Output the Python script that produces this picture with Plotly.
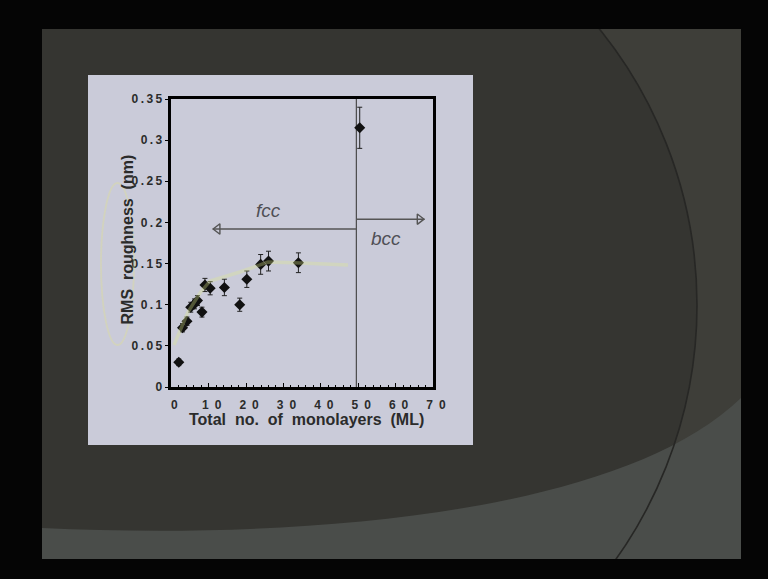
import plotly.graph_objects as go
import numpy as np

W, H = 768, 579

# RMS roughness versus total film thickness
monolayers = [2.0, 3.0, 4.2, 5.2, 6.2, 7.0, 8.2, 9.0, 10.4, 14.2, 18.3, 20.2, 23.9, 26.0, 34.0, 50.4]
rms_nm = [0.030, 0.072, 0.080, 0.097, 0.101, 0.105, 0.091, 0.124, 0.120, 0.121, 0.100, 0.131, 0.149, 0.153, 0.151, 0.315]
rms_err = [0.004, 0.005, 0.005, 0.006, 0.006, 0.006, 0.006, 0.008, 0.008, 0.010, 0.008, 0.010, 0.012, 0.012, 0.012, 0.025]

x_ticks = [0, 10, 20, 30, 40, 50, 60, 70]
x_tick_labels = ["0", "10", "20", "30", "40", "50", "60", "70"]
y_ticks = [0, 0.05, 0.10, 0.15, 0.20, 0.25, 0.30, 0.35]
y_tick_labels = ["0", "0.05", "0.1", "0.15", "0.2", "0.25", "0.3", "0.35"]

# fcc -> bcc transition and the phase arrows
transition_ml = 49.5
fcc_arrow = dict(x=[49.5, 11.1], y=0.192)
bcc_arrow = dict(x=[49.5, 67.7], y=0.204)


def px(x):
    return x / W


def py(y):
    return 1 - y / H


def path(points, close=False):
    s = "M " + " L ".join(f"{px(a):.5f},{py(b):.5f}" for a, b in points)
    return s + (" Z" if close else "")


def spaced(label, sep):
    return sep.join(label)


fig = go.Figure()

# vertical phase boundary
fig.add_trace(go.Scatter(
    x=[transition_ml, transition_ml], y=[0, 0.35], mode="lines",
    line=dict(color="#4a4a4a", width=1.2), hoverinfo="skip", showlegend=False))

# phase arrows with open heads
for arr, sym in ((fcc_arrow, "triangle-left-open"), (bcc_arrow, "triangle-right-open")):
    fig.add_trace(go.Scatter(
        x=arr["x"], y=[arr["y"], arr["y"]], mode="lines",
        line=dict(color="#555555", width=1.5), hoverinfo="skip", showlegend=False))
    step = 1.3 if sym.startswith("triangle-left") else -1.3
    fig.add_trace(go.Scatter(
        x=[arr["x"][1] + step], y=[arr["y"]], mode="markers",
        marker=dict(symbol=sym, size=9, color="#555555", line=dict(width=1.4, color="#555555")),
        hoverinfo="skip", showlegend=False))

# data with error bars
fig.add_trace(go.Scatter(
    x=monolayers, y=rms_nm, mode="markers",
    marker=dict(symbol="diamond", size=8.5, color="#111111"),
    error_y=dict(type="data", array=rms_err, visible=True, color="#222222", thickness=1, width=2.5),
    showlegend=False))

# slide background
below = []
below.append(dict(type="rect", xref="paper", yref="paper", x0=px(42), x1=px(741), y0=py(559), y1=py(29),
                  fillcolor="#3e3e39", line=dict(width=0), layer="below"))
cx, cy, r = 258, 305, 439
below.append(dict(type="circle", xref="paper", yref="paper", x0=px(cx - r), x1=px(cx + r),
                  y0=py(cy + r), y1=py(cy - r), fillcolor="#353531", line=dict(width=0), layer="below"))
band = (f"M {px(42):.5f},{py(528):.5f} C {px(300):.5f},{py(540):.5f} {px(620):.5f},{py(515):.5f} "
        f"{px(741):.5f},{py(398):.5f} L {px(741):.5f},{py(559):.5f} L {px(42):.5f},{py(559):.5f} Z")
below.append(dict(type="path", xref="paper", yref="paper", path=band,
                  fillcolor="#4a4d4a", line=dict(width=0), layer="below"))
below.append(dict(type="circle", xref="paper", yref="paper", x0=px(cx - r), x1=px(cx + r),
                  y0=py(cy + r), y1=py(cy - r), fillcolor="rgba(0,0,0,0)",
                  line=dict(width=1.6, color="#272725"), layer="below"))
# black frame around the slide
for x0, x1, y0, y1 in ((-20, 42, -20, H + 20), (741, W + 20, -20, H + 20),
                       (-20, W + 20, -20, 29), (-20, W + 20, 559, H + 20)):
    below.append(dict(type="rect", xref="paper", yref="paper", x0=px(x0), x1=px(x1), y0=py(y1), y1=py(y0),
                      fillcolor="#050505", line=dict(width=0), layer="below"))
# chart panel
below.append(dict(type="rect", xref="paper", yref="paper", x0=px(88), x1=px(473), y0=py(445), y1=py(75),
                  fillcolor="#cacbd9", line=dict(width=0), layer="below"))

# highlighter marks
above = []
hl = [(174, 345), (188, 312), (200, 293), (210, 281), (240, 272), (268, 262), (301, 263), (348, 265)]
above.append(dict(type="path", xref="paper", yref="paper", path=path(hl),
                  line=dict(color="rgba(225,235,140,0.32)", width=3.5), layer="above"))
above.append(dict(type="circle", xref="paper", yref="paper", x0=px(101), x1=px(134), y0=py(345), y1=py(183),
                  line=dict(color="rgba(225,225,140,0.35)", width=1.8), fillcolor="rgba(0,0,0,0)", layer="above"))

fig.update_layout(shapes=below + above)

tick_font = dict(family="Liberation Sans", size=12, color="#2b2b2b", weight="bold")

fig.update_xaxes(
    domain=[px(171.3), px(433)], range=[0, 70],
    tickvals=x_ticks, ticktext=[spaced(t, "\u2002") for t in x_tick_labels],
    ticks="inside", ticklen=4, tickcolor="black", tickwidth=1,
    minor=dict(dtick=2, ticks="inside", ticklen=2, tickcolor="black"),
    showline=True, linewidth=2.5, linecolor="black", mirror=True,
    showgrid=False, zeroline=False, tickfont=tick_font, ticklabelstandoff=5, ticklabelshift=3)
fig.update_yaxes(
    domain=[py(387), py(99)], range=[0, 0.35],
    tickvals=y_ticks, ticktext=[spaced(t, "\u2009") for t in y_tick_labels],
    ticks="outside", ticklen=4, tickcolor="black", tickwidth=1,
    showline=True, linewidth=2.5, linecolor="black", mirror=True,
    showgrid=False, zeroline=False, tickfont=tick_font, ticklabelstandoff=0)

title_font = dict(family="Liberation Sans", size=16, color="#2b2b2b", weight="bold")
nb = "\u00a0"
fig.add_annotation(xref="paper", yref="paper", x=px(117), y=py(240), textangle=-90, showarrow=False,
                   text=f"RMS{nb}{nb}roughness{nb}{nb}(nm)", font=title_font)
fig.add_annotation(xref="paper", yref="paper", x=px(306.5), y=py(430), showarrow=False,
                   text=f"Total{nb}{nb}no.{nb}{nb}of{nb}{nb}monolayers{nb}{nb}(ML)", font=title_font)
phase_font = dict(family="Liberation Sans", size=19, color="#4f4f55", style="italic")
fig.add_annotation(x=25.9, y=0.214, text="fcc", showarrow=False, font=phase_font)
fig.add_annotation(x=57.5, y=0.181, text="bcc", showarrow=False, font=phase_font)

fig.update_layout(
    width=W, height=H, margin=dict(l=0, r=0, t=0, b=0, autoexpand=False),
    paper_bgcolor="#050505", plot_bgcolor="rgba(0,0,0,0)")

fig.write_html("out.html")
